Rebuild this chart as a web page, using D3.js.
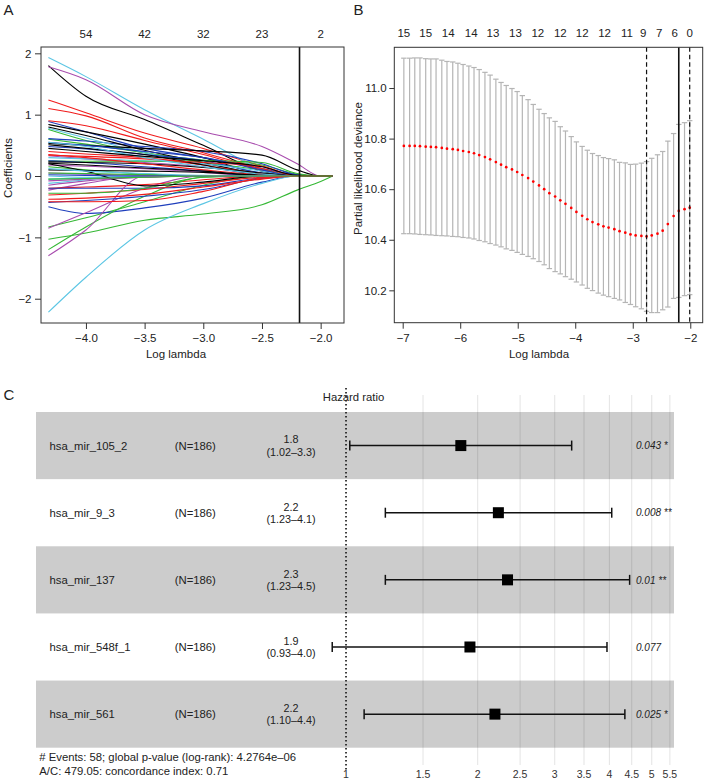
<!DOCTYPE html>
<html>
<head>
<meta charset="utf-8">
<script src="https://cdn.jsdelivr.net/npm/d3@7"></script>
<style>
  body { margin: 0; background: #fff; }
  svg { display: block; font-family: "Liberation Sans", Arial, Helvetica, sans-serif; }
</style>
</head>
<body>
<svg id="chart" width="704" height="781"></svg>
<script>
// ---------------- Panel A: coefficient paths ----------------
const coefKnots = [-4.32, -4.0, -3.5, -3.0, -2.5, -2.2, -2.0, -1.897];
// one row per variable (glmnet colour cycle: black, red, green, blue, cyan, magenta)
const coefPaths = [
  [1.80, 1.30, 0.92, 0.50, 0.08, 0, 0, 0],
  [1.24, 1.03, 0.70, 0.45, 0.16, 0, 0, 0],
  [0.76, 0.58, 0.38, 0.26, 0.18, 0.03, 0, 0],
  [0.89, 0.72, 0.45, 0.30, 0.12, 0.02, 0, 0],
  [1.93, 1.62, 1.08, 0.60, 0.12, 0, 0, 0],
  [1.78, 1.57, 1.00, 0.72, 0.48, 0.20, 0, 0],

  [0.84, 0.72, 0.52, 0.30, 0.04, 0, 0, 0],
  [1.10, 0.98, 0.62, 0.38, 0.12, 0, 0, 0],
  [0.60, 0.52, 0.38, 0.22, 0.10, 0, 0, 0],
  [0.61, 0.57, 0.48, 0.40, 0.20, 0.02, 0, 0],
  [0.78, 0.62, 0.38, 0.20, 0.05, 0, 0, 0],
  [0.33, 0.28, 0.22, 0.15, 0.02, 0, 0, 0],

  [0.80, 0.66, 0.42, 0.22, 0.03, 0, 0, 0],
  [0.90, 0.82, 0.58, 0.35, 0.10, 0, 0, 0],
  [0.15, 0.10, 0.03, 0, 0, 0, 0, 0],
  [0.48, 0.44, 0.35, 0.25, 0.05, 0, 0, 0],
  [0.30, 0.28, 0.25, 0.20, 0.08, 0, 0, 0],
  [0.18, 0.16, 0.12, 0.06, 0, 0, 0, 0],

  [0.53, 0.50, 0.45, 0.41, 0.34, 0.10, 0, 0],
  [0.40, 0.36, 0.30, 0.18, 0.04, 0, 0, 0],
  [0.25, 0.24, 0.24, 0.25, 0.22, 0.04, 0, 0],
  [0.55, 0.50, 0.40, 0.30, 0.10, 0, 0, 0],
  [0.00, -0.02, -0.01, 0, 0, 0, 0, 0],
  [-0.15, -0.08, -0.02, 0, 0, 0, 0, 0],

  [0.51, 0.45, 0.35, 0.18, 0.02, 0, 0, 0],
  [0.34, 0.32, 0.28, 0.22, 0.16, 0, 0, 0],
  [-0.83, -0.68, -0.42, -0.15, 0, 0, 0, 0],
  [0.25, 0.22, 0.15, 0.08, 0, 0, 0, 0],
  [-0.12, -0.06, 0, 0, 0, 0, 0, 0],
  [-0.23, -0.12, 0, 0, 0, 0, 0, 0],

  [0.23, 0.22, 0.20, 0.14, 0.05, 0, 0, 0],
  [0.35, 0.30, 0.20, 0.10, 0.02, 0, 0, 0],
  [-1.03, -0.93, -0.72, -0.62, -0.47, -0.23, -0.09, 0],
  [-0.50, -0.61, -0.52, -0.36, -0.10, 0, 0, 0],
  [-2.22, -1.65, -0.88, -0.45, -0.12, 0, 0, 0],
  [-0.85, -0.60, -0.20, 0, 0, 0, 0, 0],

  [0.21, 0.18, 0.13, 0.08, 0.01, 0, 0, 0],
  [-0.20, -0.18, -0.14, -0.06, 0, 0, 0, 0],
  [-1.20, -0.83, -0.33, -0.02, 0, 0, 0, 0],
  [-0.20, -0.20, -0.20, -0.16, -0.03, 0, 0, 0],
  [0.55, 0.48, 0.30, 0.15, 0.03, 0, 0, 0],
  [-1.30, -0.88, 0, 0, 0, 0, 0, 0],

  [0.10, 0.09, 0.08, 0.06, 0.01, 0, 0, 0],
  [-0.31, -0.28, -0.22, -0.12, -0.02, 0, 0, 0],
  [-0.28, -0.28, -0.20, -0.02, 0, 0, 0, 0],
  [-0.43, -0.40, -0.33, -0.22, -0.04, 0, 0, 0],
  [-0.05, -0.03, 0, 0, 0, 0, 0, 0],
  [0.05, 0.03, 0.01, 0, 0, 0, 0, 0],

  [0.20, 0.08, -0.16, -0.10, 0, 0, 0, 0],
  [-0.38, -0.36, -0.30, -0.18, -0.05, 0, 0, 0],
  [0.05, 0.04, 0.02, 0, 0, 0, 0, 0],
  [0.02, 0.01, 0, 0, 0, 0, 0, 0],
  [0.12, 0.08, 0.04, 0.01, 0, 0, 0, 0],
  [-0.08, -0.05, -0.02, 0, 0, 0, 0, 0],

  [0.45, 0.40, 0.32, 0.25, 0.15, 0.01, 0, 0],
  [-0.42, -0.42, -0.40, -0.25, -0.03, 0, 0, 0],
  [-0.05, -0.04, -0.02, 0, 0, 0, 0, 0]
];
const coefBottomTicks = [-4.0, -3.5, -3.0, -2.5, -2.0];
const coefTopAt = [-4.0, -3.5, -3.0, -2.5, -2.0];
const coefTopLabels = ["54", "42", "32", "23", "2"];
const coefYTicks = [-2, -1, 0, 1, 2];
const coefCut = -2.18;

// ---------------- Panel B: cross-validation curve ----------------
const cvLogLambda = [-6.98, -6.88, -6.79, -6.70, -6.60, -6.51, -6.42, -6.32, -6.23, -6.13,
  -6.04, -5.95, -5.85, -5.76, -5.67, -5.57, -5.48, -5.38, -5.29, -5.20,
  -5.10, -5.01, -4.92, -4.82, -4.73, -4.63, -4.54, -4.45, -4.35, -4.26,
  -4.17, -4.07, -3.98, -3.88, -3.79, -3.70, -3.60, -3.51, -3.42, -3.32,
  -3.23, -3.13, -3.04, -2.95, -2.85, -2.76, -2.67, -2.57, -2.48, -2.39,
  -2.29, -2.20, -2.10, -2.01];
const cvm = [10.771, 10.771, 10.771, 10.770, 10.768, 10.767, 10.766, 10.763, 10.760, 10.758,
  10.755, 10.751, 10.747, 10.742, 10.735, 10.727, 10.718, 10.707, 10.697, 10.687,
  10.678, 10.668, 10.656, 10.644, 10.630, 10.615, 10.600, 10.584, 10.571, 10.556,
  10.542, 10.526, 10.510, 10.495, 10.481, 10.470, 10.461, 10.453, 10.448, 10.442,
  10.434, 10.428, 10.421, 10.417, 10.415, 10.413, 10.417, 10.424, 10.436, 10.462,
  10.494, 10.514, 10.521, 10.527];
const cvsd = [0.347, 0.347, 0.348, 0.349, 0.348, 0.348, 0.349, 0.347, 0.345, 0.345,
  0.343, 0.342, 0.340, 0.339, 0.338, 0.335, 0.333, 0.328, 0.325, 0.323,
  0.320, 0.318, 0.314, 0.310, 0.305, 0.301, 0.299, 0.298, 0.297, 0.291,
  0.288, 0.282, 0.277, 0.274, 0.273, 0.271, 0.272, 0.272, 0.273, 0.274,
  0.272, 0.276, 0.277, 0.282, 0.288, 0.296, 0.305, 0.312, 0.313, 0.328,
  0.326, 0.342, 0.342, 0.344];
const cvTopAt = [-6.98, -6.60, -6.21, -5.81, -5.43, -5.04, -4.65, -4.26, -3.88, -3.49, -3.10, -2.82, -2.54, -2.27, -2.01];
const cvTopLabels = ["15", "15", "14", "14", "13", "13", "12", "12", "12", "12", "11", "9", "7", "6", "0"];
const cvXTicks = [-7, -6, -5, -4, -3, -2];
const cvYTicks = [10.2, 10.4, 10.6, 10.8, 11.0];
const cvDashed = [-2.76, -2.01];
const cvSolid = [-2.20];

// ---------------- Panel C: forest plot ----------------
const fpNames = ["hsa_mir_105_2", "hsa_mir_9_3", "hsa_mir_137", "hsa_mir_548f_1", "hsa_mir_561"];
const fpCount = [186, 186, 186, 186, 186];
const fpHR = [1.83, 2.23, 2.34, 1.92, 2.19];
const fpLow = [1.02, 1.23, 1.23, 0.93, 1.10];
const fpHigh = [3.28, 4.05, 4.45, 3.95, 4.34];
const fpHRLabel = ["1.8", "2.2", "2.3", "1.9", "2.2"];
const fpCILabel = ["(1.02–3.3)", "(1.23–4.1)", "(1.23–4.5)", "(0.93–4.0)", "(1.10–4.4)"];
const fpP = ["0.043 *", "0.008 **", "0.01 **", "0.077", "0.025 *"];
const fpTicks = [1, 1.5, 2, 2.5, 3, 3.5, 4, 4.5, 5, 5.5];
const fpFooter = ["# Events: 58; global p-value (log-rank): 4.2764e–06", "A/C: 479.05: concordance index: 0.71"];

// ---------------- drawing ----------------
const svg = d3.select("#chart");
const ink = "#222";
const palette = ["#000000", "#f01c1c", "#35b835", "#1f3fbc", "#5cc6e4", "#a84cae"];
const minus = s => s.replace("-", "\u2212");
const fs = 11.5;

function styleAxis(g) {
  g.select(".domain").remove();
  g.selectAll(".tick line").attr("stroke", "#333");
  g.selectAll(".tick text").attr("fill", ink).style("font-size", fs + "px")
    .style("font-family", '"Liberation Sans", Arial, sans-serif');
}

// Panel A
const ax = d3.scaleLinear().domain([-4.383, -1.801]).range([41, 344]);
const ay = d3.scaleLinear().domain([-2.396, 2.103]).range([323, 47]);
const gA = svg.append("g");
const coefLine = d3.line()
  .x((d, i) => ax(coefKnots[i]))
  .y(d => ay(d))
  .curve(d3.curveMonotoneX);
gA.append("g").selectAll("path").data(coefPaths).join("path")
  .attr("d", coefLine).attr("fill", "none")
  .attr("stroke", (d, i) => palette[i % 6]).attr("stroke-width", 1.1);
gA.append("line").attr("x1", ax(coefCut)).attr("x2", ax(coefCut))
  .attr("y1", ay.range()[0]).attr("y2", ay.range()[1])
  .attr("stroke", "#111").attr("stroke-width", 1.6);
gA.append("rect").attr("x", 41).attr("y", 47).attr("width", 303).attr("height", 276)
  .attr("fill", "none").attr("stroke", "#333").attr("stroke-width", 1);
gA.append("g").attr("transform", "translate(0,323)")
  .call(d3.axisBottom(ax).tickValues(coefBottomTicks).tickSize(6).tickPadding(5.3)
    .tickFormat(d => minus(d3.format(".1f")(d))))
  .call(styleAxis);
gA.append("g").attr("transform", "translate(41,0)")
  .call(d3.axisLeft(ay).tickValues(coefYTicks).tickSize(6).tickPadding(3.5)
    .tickFormat(d => minus(String(d))))
  .call(styleAxis);
gA.append("g").selectAll("text").data(coefTopAt).join("text")
  .attr("x", d => ax(d)).attr("y", 37.5).attr("text-anchor", "middle")
  .attr("fill", ink).style("font-size", fs + "px")
  .text((d, i) => coefTopLabels[i]);
gA.append("text").attr("transform", "translate(12,168) rotate(-90)")
  .attr("text-anchor", "middle").attr("fill", ink).style("font-size", fs + "px").text("Coefficients");
gA.append("text").attr("x", 176).attr("y", 358).attr("text-anchor", "middle")
  .attr("fill", ink).style("font-size", fs + "px").text("Log lambda");
svg.append("text").attr("x", 3.5).attr("y", 14.5).attr("fill", ink).style("font-size", "15px").text("A");

// Panel B
const bx = d3.scaleLinear().domain([-7.146, -1.784]).range([394.3, 702.7]);
const by = d3.scaleLinear().domain([10.072, 11.161]).range([322.7, 47.3]);
const gB = svg.append("g");
const cv = cvLogLambda.map((l, i) => ({ l, m: cvm[i], sd: cvsd[i] }));
const bars = gB.append("g").attr("stroke", "#b5b5b5").attr("stroke-width", 1.2);
bars.selectAll("line.v").data(cv).join("line").attr("class", "v")
  .attr("x1", d => bx(d.l)).attr("x2", d => bx(d.l))
  .attr("y1", d => by(d.m - d.sd)).attr("y2", d => by(d.m + d.sd));
bars.selectAll("line.u").data(cv).join("line").attr("class", "u")
  .attr("x1", d => bx(d.l) - 2.7).attr("x2", d => bx(d.l) + 2.7)
  .attr("y1", d => by(d.m + d.sd)).attr("y2", d => by(d.m + d.sd));
bars.selectAll("line.d").data(cv).join("line").attr("class", "d")
  .attr("x1", d => bx(d.l) - 2.7).attr("x2", d => bx(d.l) + 2.7)
  .attr("y1", d => by(d.m - d.sd)).attr("y2", d => by(d.m - d.sd));
gB.append("g").selectAll("circle").data(cv).join("circle")
  .attr("cx", d => bx(d.l)).attr("cy", d => by(d.m)).attr("r", 1.35).attr("fill", "#ff0000");
gB.append("g").selectAll("line").data(cvDashed).join("line")
  .attr("x1", d => bx(d)).attr("x2", d => bx(d)).attr("y1", 47.3).attr("y2", 322.7)
  .attr("stroke", "#111").attr("stroke-width", 1.2).attr("stroke-dasharray", "4.5,3");
gB.append("g").selectAll("line").data(cvSolid).join("line")
  .attr("x1", d => bx(d)).attr("x2", d => bx(d)).attr("y1", 47.3).attr("y2", 322.7)
  .attr("stroke", "#111").attr("stroke-width", 1.6);
gB.append("rect").attr("x", 394.3).attr("y", 47.3).attr("width", 308.4).attr("height", 275.4)
  .attr("fill", "none").attr("stroke", "#333").attr("stroke-width", 1);
gB.append("g").attr("transform", "translate(0,322.7)")
  .call(d3.axisBottom(bx).tickValues(cvXTicks).tickSize(6).tickPadding(5.3)
    .tickFormat(d => minus(String(d))))
  .call(styleAxis);
gB.append("g").attr("transform", "translate(394.3,0)")
  .call(d3.axisLeft(by).tickValues(cvYTicks).tickSize(5).tickPadding(2.6)
    .tickFormat(d3.format(".1f")))
  .call(styleAxis);
gB.append("g").selectAll("text").data(cvTopAt).join("text")
  .attr("x", d => bx(d)).attr("y", 36.5).attr("text-anchor", "middle")
  .attr("fill", ink).style("font-size", fs + "px")
  .text((d, i) => cvTopLabels[i]);
gB.append("text").attr("transform", "translate(361.5,168.5) rotate(-90)")
  .attr("text-anchor", "middle").attr("fill", ink).style("font-size", fs + "px").text("Partial likelihood deviance");
gB.append("text").attr("x", 539).attr("y", 358).attr("text-anchor", "middle")
  .attr("fill", ink).style("font-size", fs + "px").text("Log lambda");
svg.append("text").attr("x", 353.5).attr("y", 14.5).attr("fill", ink).style("font-size", "15px").text("B");

// Panel C
const fx = d3.scaleLog().domain([0.9, 6]).range([326.0, 686.4]);
const fy = d3.scaleBand().domain(fpNames).range([412, 747.7]);
const gC = svg.append("g");
const rows = fpNames.map((n, i) => ({ n, i, c: fpCount[i], hr: fpHR[i], lo: fpLow[i], hi: fpHigh[i] }));
gC.append("g").selectAll("rect").data(rows.filter(r => r.i % 2 === 0)).join("rect")
  .attr("x", 36).attr("width", 638).attr("y", d => fy(d.n)).attr("height", fy.bandwidth())
  .attr("fill", "#cccccc");
gC.append("g").selectAll("line").data(fpTicks.filter(t => t !== 1)).join("line")
  .attr("x1", d => fx(d)).attr("x2", d => fx(d)).attr("y1", 395).attr("y2", 765)
  .attr("stroke", "rgba(0,0,0,0.11)").attr("stroke-width", 1);
gC.append("line").attr("x1", fx(1)).attr("x2", fx(1)).attr("y1", 388).attr("y2", 770)
  .attr("stroke", "#111").attr("stroke-width", 1.6).attr("stroke-dasharray", "1.5,2.5");
const ci = gC.append("g").attr("stroke", "#111").attr("stroke-width", 1.5);
ci.selectAll("line.h").data(rows).join("line").attr("class", "h")
  .attr("x1", d => fx(d.lo)).attr("x2", d => fx(d.hi))
  .attr("y1", d => fy(d.n) + fy.bandwidth() / 2).attr("y2", d => fy(d.n) + fy.bandwidth() / 2);
ci.selectAll("line.l").data(rows).join("line").attr("class", "l")
  .attr("x1", d => fx(d.lo)).attr("x2", d => fx(d.lo))
  .attr("y1", d => fy(d.n) + fy.bandwidth() / 2 - 5).attr("y2", d => fy(d.n) + fy.bandwidth() / 2 + 5);
ci.selectAll("line.r").data(rows).join("line").attr("class", "r")
  .attr("x1", d => fx(d.hi)).attr("x2", d => fx(d.hi))
  .attr("y1", d => fy(d.n) + fy.bandwidth() / 2 - 5).attr("y2", d => fy(d.n) + fy.bandwidth() / 2 + 5);
gC.append("g").selectAll("rect").data(rows).join("rect")
  .attr("x", d => fx(d.hr) - 5.5).attr("y", d => fy(d.n) + fy.bandwidth() / 2 - 5.5)
  .attr("width", 11).attr("height", 11).attr("fill", "#000");
const cy = d => fy(d.n) + fy.bandwidth() / 2;
const tfs = 11.3;
gC.append("g").selectAll("text").data(rows).join("text")
  .attr("x", 49.5).attr("y", d => cy(d) + 4.3).attr("fill", ink).style("font-size", tfs + "px").text(d => d.n);
gC.append("g").selectAll("text").data(rows).join("text")
  .attr("x", 195.3).attr("y", d => cy(d) + 4.3).attr("text-anchor", "middle")
  .attr("fill", ink).style("font-size", tfs + "px").text(d => "(N=" + d.c + ")");
gC.append("g").selectAll("text").data(rows).join("text")
  .attr("x", 291).attr("y", d => cy(d) - 2.2).attr("text-anchor", "middle")
  .attr("fill", ink).style("font-size", "10.8px").text(d => fpHRLabel[d.i]);
gC.append("g").selectAll("text").data(rows).join("text")
  .attr("x", 291).attr("y", d => cy(d) + 10.3).attr("text-anchor", "middle")
  .attr("fill", ink).style("font-size", "10.8px").text(d => fpCILabel[d.i]);
gC.append("g").selectAll("text").data(rows).join("text")
  .attr("x", 636).attr("y", d => cy(d) + 3.7).attr("fill", ink)
  .style("font-size", "10px").style("font-style", "italic").text(d => fpP[d.i]);
gC.append("g").selectAll("text").data(fpTicks).join("text")
  .attr("x", d => fx(d)).attr("y", 777.5).attr("text-anchor", "middle")
  .attr("fill", "#333").style("font-size", "10.5px").text(d => String(d));
gC.append("text").attr("x", 353.5).attr("y", 401).attr("text-anchor", "middle")
  .attr("fill", ink).style("font-size", tfs + "px").text("Hazard ratio");
gC.append("g").selectAll("text").data(fpFooter).join("text")
  .attr("x", 39.3).attr("y", (d, i) => 761 + i * 14).attr("fill", ink)
  .style("font-size", tfs + "px").text(d => d);
svg.append("text").attr("x", 3.5).attr("y", 399.5).attr("fill", ink).style("font-size", "15px").text("C");
</script>
</body>
</html>
